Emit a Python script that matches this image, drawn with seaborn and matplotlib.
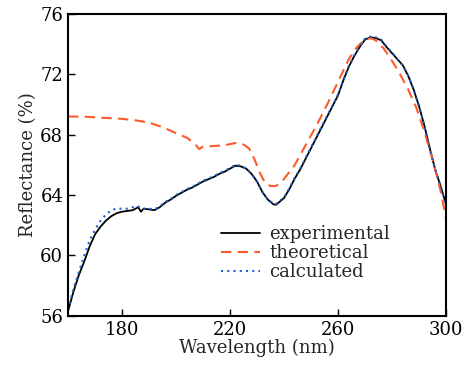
import numpy as np
import pandas as pd
import matplotlib
matplotlib.use("Agg")
import matplotlib.pyplot as plt
import seaborn as sns

# data
wl = [160, 162, 164, 166, 168, 170, 172, 174, 176, 178, 180, 182, 184, 186, 187,
      188, 190, 192, 194, 196, 198, 200, 202, 204, 206, 208, 210, 212, 214, 216,
      218, 220, 222, 224, 226, 228, 230, 232, 234, 236, 237, 238, 240, 242, 244,
      246, 248, 250, 252, 254, 256, 258, 260, 262, 264, 266, 268, 270, 272, 274,
      276, 278, 280, 282, 284, 286, 288, 290, 292, 294, 296, 298, 300]
experimental = [56.3, 57.6, 58.7, 59.6, 60.6, 61.4, 61.9, 62.3, 62.6, 62.8, 62.9,
                62.95, 63.0, 63.2, 62.9, 63.1, 63.05, 63.0, 63.2, 63.5, 63.7, 63.95,
                64.15, 64.35, 64.5, 64.7, 64.9, 65.05, 65.2, 65.4, 65.55, 65.75,
                65.95, 65.9, 65.75, 65.4, 64.9, 64.2, 63.7, 63.4, 63.35, 63.5, 63.8,
                64.4, 65.1, 65.7, 66.4, 67.1, 67.8, 68.5, 69.2, 69.9, 70.6, 71.6,
                72.5, 73.2, 73.8, 74.3, 74.45, 74.4, 74.25, 73.8, 73.4, 73.0, 72.6,
                71.9, 71.0, 69.9, 68.6, 67.1, 65.7, 64.6, 63.4]
calculated = [56.4, 57.8, 58.9, 60.0, 61.0, 61.7, 62.3, 62.7, 63.0, 63.1, 63.1,
              63.1, 63.2, 63.25, 63.1, 63.1, 63.1, 63.05, 63.25, 63.55, 63.75, 64.0,
              64.2, 64.4, 64.55, 64.75, 64.95, 65.1, 65.25, 65.45, 65.6, 65.8,
              66.0, 65.95, 65.75, 65.4, 64.9, 64.2, 63.7, 63.45, 63.4, 63.55, 63.85,
              64.45, 65.15, 65.75, 66.45, 67.15, 67.85, 68.55, 69.25, 69.95, 70.65,
              71.65, 72.55, 73.25, 73.85, 74.35, 74.5, 74.45, 74.3, 73.85, 73.45,
              73.0, 72.6, 71.9, 71.0, 69.9, 68.6, 67.1, 65.7, 64.6, 63.4]

wl_theory = [160, 165, 170, 175, 180, 185, 190, 195, 200, 204, 207, 208.5, 210, 214,
             218, 222, 225, 227, 229, 231, 233, 235, 237, 239, 241, 244, 248, 252,
             256, 260, 264, 267, 270, 272, 274, 277, 280, 283, 286, 289, 292, 295,
             298, 300]
theoretical = [69.2, 69.2, 69.15, 69.1, 69.05, 68.95, 68.8, 68.5, 68.1, 67.8, 67.4,
               67.05, 67.2, 67.25, 67.3, 67.45, 67.35, 67.1, 66.4, 65.5, 64.8, 64.6,
               64.6, 64.85, 65.3, 66.0, 67.3, 68.6, 70.0, 71.5, 73.0, 73.8, 74.3,
               74.4, 74.25, 73.7, 72.9, 72.0, 71.0, 69.8, 68.2, 66.4, 64.3, 62.5]

sns.set_style("white")
plt.rcParams['font.family'] = ['DejaVu Serif']
plt.rcParams['mathtext.fontset'] = 'dejavuserif'

fig, ax = plt.subplots(figsize=(4.66, 3.66), dpi=100)
fig.subplots_adjust(left=0.146, right=0.957, top=0.962, bottom=0.137)

sns.lineplot(x=wl, y=experimental, ax=ax, color='black', lw=1.3, label='experimental')
sns.lineplot(x=wl_theory, y=theoretical, ax=ax, color='#ff5a2a', lw=1.5,
             linestyle=(0, (5, 3)), label='theoretical')
sns.lineplot(x=wl, y=calculated, ax=ax, color='#1f5fd0', lw=1.5,
             linestyle=(0, (1, 2)), label='calculated')

ax.set_xlim(160, 300)
ax.set_ylim(56, 76)
ax.set_xticks([180, 220, 260, 300])
ax.set_yticks([56, 60, 64, 68, 72, 76])
ax.set_xlabel('Wavelength (nm)', fontsize=13, labelpad=0)
ax.set_ylabel('Reflectance (%)', fontsize=13, labelpad=2)
ax.tick_params(axis='both', direction='in', length=5, width=1, labelsize=13,
               bottom=True, left=True, top=False, right=False, colors='black')
for s in ax.spines.values():
    s.set_color('black')
    s.set_linewidth(1.5)

leg = ax.legend(loc='upper left', bbox_to_anchor=(0.38, 0.33), frameon=False,
                fontsize=13, handlelength=2.2, handletextpad=0.5, labelspacing=0.05,
                borderpad=0)

fig.savefig('out.png', dpi=100)
